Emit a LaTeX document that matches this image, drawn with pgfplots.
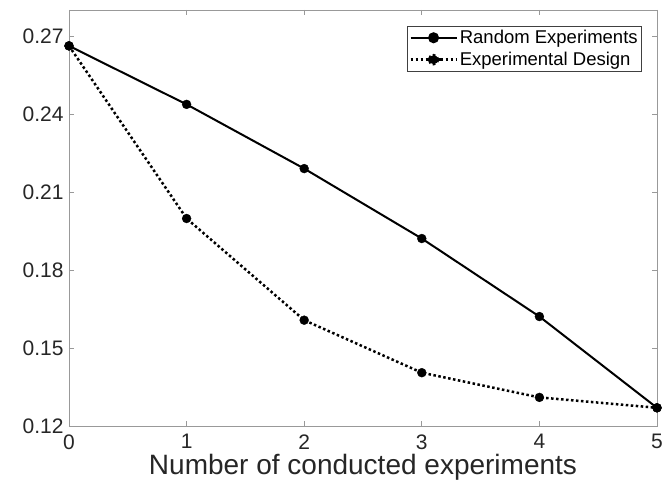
\documentclass[border=0pt]{standalone}
\usepackage{pgfplots}
\pgfplotsset{compat=1.18}
\usepackage{fontspec}
\setmainfont{Liberation Sans}
\begin{document}
\begin{tikzpicture}[x=1pt,y=1pt]
\begin{axis}[
  at={(0,0)}, anchor=south west,
  scale only axis,
  width=588pt, height=416pt,
  xmin=0, xmax=5, ymin=0.12, ymax=0.28,
  xtick={0,1,2,3,4,5},
  ytick={0.12,0.15,0.18,0.21,0.24,0.27},
  /pgf/number format/assume math mode=true,
  yticklabel style={/pgf/number format/fixed,/pgf/number format/fixed zerofill,/pgf/number format/precision=2},
  tick label style={font=\fontsize{21}{23}\selectfont, text=black!85},
  every x tick label/.append style={yshift=-5pt},
  every y tick label/.append style={xshift=-2pt},
  tick align=inside,
  major tick length=5pt,
  every tick/.style={draw=gray!80, line width=0.6pt},
  axis line style={draw=gray!80, line width=0.8pt},
  xlabel={Number of conducted experiments},
  xlabel style={at={(axis description cs:0.5,0)}, anchor=south, yshift=-58pt, font=\fontsize{28}{28}\selectfont, text=black!85},
  legend style={at={(axis description cs:0.9745,0.9615)}, anchor=north east,
    font=\fontsize{18.5}{20}\selectfont, draw=black!75, line width=0.6pt,
    inner xsep=2pt, inner ysep=2pt, row sep=3pt},
  legend cell align=left,
  legend image code/.code={
    \draw[#1,mark=none] (0pt,0pt) -- (16pt,0pt);
    \draw[#1,mark=none] (30pt,0pt) -- (46pt,0pt);
    \draw[#1,mark=none,solid] (16pt,0pt) -- (30pt,0pt);
    \fill[black] (23pt,0pt) circle (4.5pt);
  },
]
\addplot[black, line width=2pt, mark=*, mark size=4.5pt, mark options={solid, line width=0.3pt}] coordinates {
(0,0.2662) (1,0.2437) (2,0.2190) (3,0.1921) (4,0.1621) (5,0.1270)
};
\addlegendentry{Random Experiments}
\addplot[black, line width=2.5pt, dash pattern=on 2.5pt off 2.5pt, mark=*, mark size=4.5pt, mark options={solid, line width=0.3pt}] coordinates {
(0,0.2662) (1,0.1998) (2,0.1607) (3,0.1405) (4,0.1310) (5,0.1270)
};
\addlegendentry{Experimental Design}
\end{axis}
\pgfresetboundingbox
\useasboundingbox (-69,-63) rectangle (601,426);
\end{tikzpicture}
\end{document}
